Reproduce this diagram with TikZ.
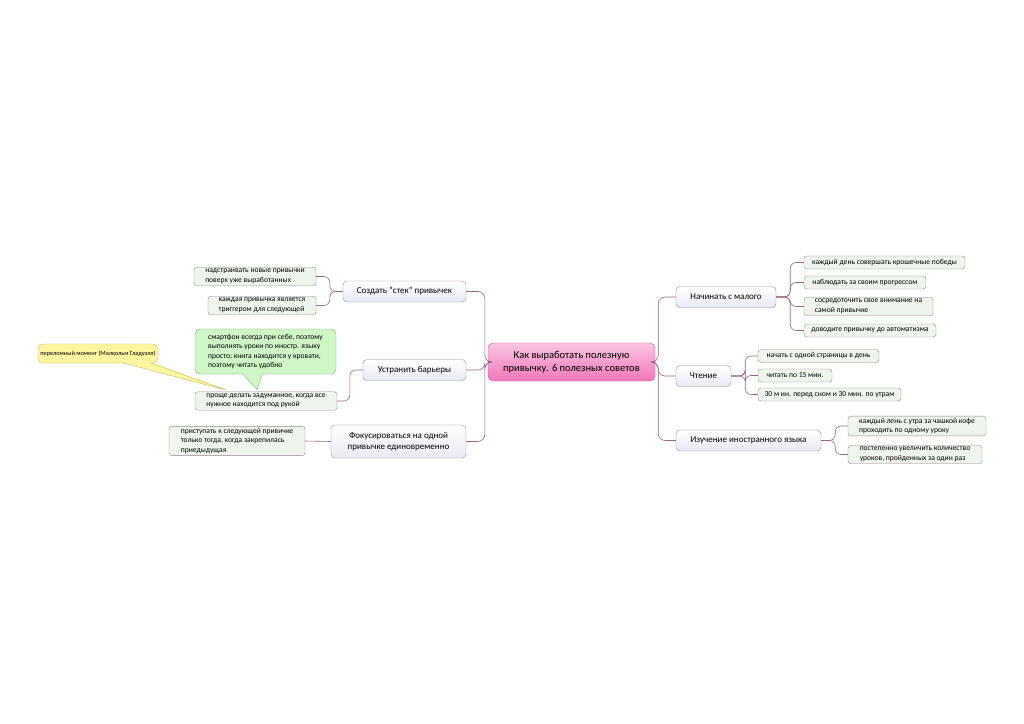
\documentclass[tikz,border=0pt]{standalone}
\usepackage{fontspec}
\setmainfont{Carlito}
\usetikzlibrary{positioning,calc}
\definecolor{RootTop}{RGB}{250,196,226}
\definecolor{RootBot}{RGB}{240,120,184}
\definecolor{RootLine}{RGB}{200,86,150}
\definecolor{TopicFill}{RGB}{232,234,244}
\definecolor{TopicLine}{RGB}{158,134,154}
\definecolor{LeafFill}{RGB}{238,245,236}
\definecolor{LeafLine}{RGB}{160,130,150}
\definecolor{NoteGreen}{RGB}{208,246,200}
\definecolor{NoteGreenLine}{RGB}{120,180,115}
\definecolor{NoteYellow}{RGB}{252,246,160}
\definecolor{NoteYellowLine}{RGB}{200,185,80}
\definecolor{LinkCol}{RGB}{150,100,135}

\tikzset{
  root/.style={draw=RootLine,top color=RootTop,bottom color=RootBot,rounded corners=5pt,
    align=center,font=\fontsize{10.5}{13}\selectfont,minimum width=167pt,minimum height=38pt},
  topic/.style={draw=TopicLine,top color=white,bottom color=TopicFill,rounded corners=4pt,
    align=center,font=\fontsize{9}{11.5}\selectfont,minimum height=21pt,minimum width=#1},
  leaf/.style={draw=LeafLine,fill=LeafFill,rounded corners=3pt,align=left,
    font=\fontsize{7.6}{9.5}\selectfont,inner ysep=2pt,minimum height=13pt,minimum width=#1},
  note/.style={rounded corners=5pt,align=left,font=\fontsize{7.6}{9.5}\selectfont,minimum width=#1},
  link/.style={draw=LinkCol,line width=0.6pt,rounded corners=7pt}
}

\begin{document}
\begin{tikzpicture}[x=1pt,y=-1pt]
\useasboundingbox[fill=white] (0,0) rectangle (1024,723);

% centre
\node[root] (root) at (571.5,362) {Как выработать полезную\\привычку. 6 полезных советов};

% left topics
\node[topic=123pt] (stack) at (404.5,291.5) {Создать "стек" привычек};
\node[topic=103pt] (barrier) at (414.5,370) {Устранить барьеры};
\node[topic=135pt,minimum height=33pt] (focus) at (398.5,441.5) {Фокусироваться на одной\\привычке единовременно};

% right topics
\node[topic=100pt] (small) at (726,297) {Начинать с малого};
\node[topic=55pt] (read) at (703.5,376) {Чтение};
\node[topic=145pt] (lang) at (748.5,440.5) {Изучение иностранного языка};

% left leaves
\node[leaf=122pt] (stack1) at (255,276.5) {надстраивать новые привычки\\поверх уже выработанных};
\node[leaf=108pt] (stack2) at (262,305.5) {каждая привычка является\\триггером для следующей};
\node[leaf=142pt] (barrier1) at (266,401) {проще делать задуманное, когда все\\нужное находится под рукой};
\node[leaf=136pt] (focus1) at (237,441) {приступать к следующей привичке\\только тогда, когда закрепилась\\приедыдущая};

% notes
\coordinate (tipg) at (257,389.5);
\coordinate (tipy) at (226,390);
\node[note=141pt,minimum height=45pt,draw=NoteGreenLine,fill=NoteGreen] (gnote) at (265.5,351.5)
  {смартфон всегда при себе, поэтому\\выполнять уроки по иностр. языку\\просто; книга находится у кровати,\\поэтому читать удобно};
\fill[NoteGreen] ($(gnote.south)+(-23,-1)$) -- (tipg) -- ($(gnote.south)+(-3,-1)$) -- cycle;
\draw[NoteGreenLine,line width=0.4pt] ($(gnote.south)+(-23,-0.5)$) -- (tipg) -- ($(gnote.south)+(-3,-0.5)$);
\node[note=120pt,minimum height=19pt,draw=NoteYellowLine,fill=NoteYellow,
  font=\fontsize{6.3}{8}\selectfont,inner xsep=2pt] (ynote) at (98,353.5)
  {переломный момент (Малкольм Гладуэлл)};
\fill[NoteYellow] ($(ynote.south)+(24,-1)$) -- (tipy) -- ($(ynote.south)+(52,-1)$) -- cycle;
\draw[NoteYellowLine,line width=0.4pt] ($(ynote.south)+(24,-0.5)$) -- (tipy) -- ($(ynote.south)+(52,-0.5)$);

% right leaves
\node[leaf=161pt] (small1) at (884.5,262.5) {каждый день совершать крошечные победы};
\node[leaf=122pt] (small2) at (865,282.5) {наблюдать за своим прогрессом};
\node[leaf=129pt] (small3) at (868.5,306.5) {сосредоточить свое внимание на\\самой привычке};
\node[leaf=132pt] (small4) at (870,330.5) {доводите привычку до автоматизма};
\node[leaf=121pt] (read1) at (818.5,356) {начать с одной страницы в день};
\node[leaf=74pt] (read2) at (795,375.5) {читать по 15 мин.};
\node[leaf=143pt] (read3) at (829.5,394.5) {30 м ин. перед сном и 30 мин. по утрам};
\node[leaf=138pt] (lang1) at (917,426) {каждый лень с утра за чашкой кофе\\проходить по одному уроку};
\node[leaf=134pt] (lang2) at (915,454.5) {постепенно увеличить количество\\уроков, пройденных за один раз};

% links from centre
\foreach \t in {stack,barrier,focus}
  \draw[link] (root.west) -- ++(-3,0) |- (\t.east);
\foreach \t in {small,read,lang}
  \draw[link] (root.east) -- ++(3,0) |- (\t.west);

% links to leaves
\foreach \l in {stack1,stack2}
  \draw[link,rounded corners=6pt] (stack.west) -- ++(-13,0) |- (\l.east);
\draw[link,rounded corners=6pt] (barrier.west) -- ++(-13,0) |- (barrier1.east);
\draw[link] (focus.west) -- (focus1.east);
\foreach \l in {small1,small2,small3,small4}
  \draw[link,rounded corners=6pt] (small.east) -- ++(14,0) |- (\l.west);
\foreach \l in {read1,read2,read3}
  \draw[link,rounded corners=6pt] (read.east) -- ++(14,0) |- (\l.west);
\foreach \l in {lang1,lang2}
  \draw[link,rounded corners=6pt] (lang.east) -- ++(14,0) |- (\l.west);
\end{tikzpicture}
\end{document}
